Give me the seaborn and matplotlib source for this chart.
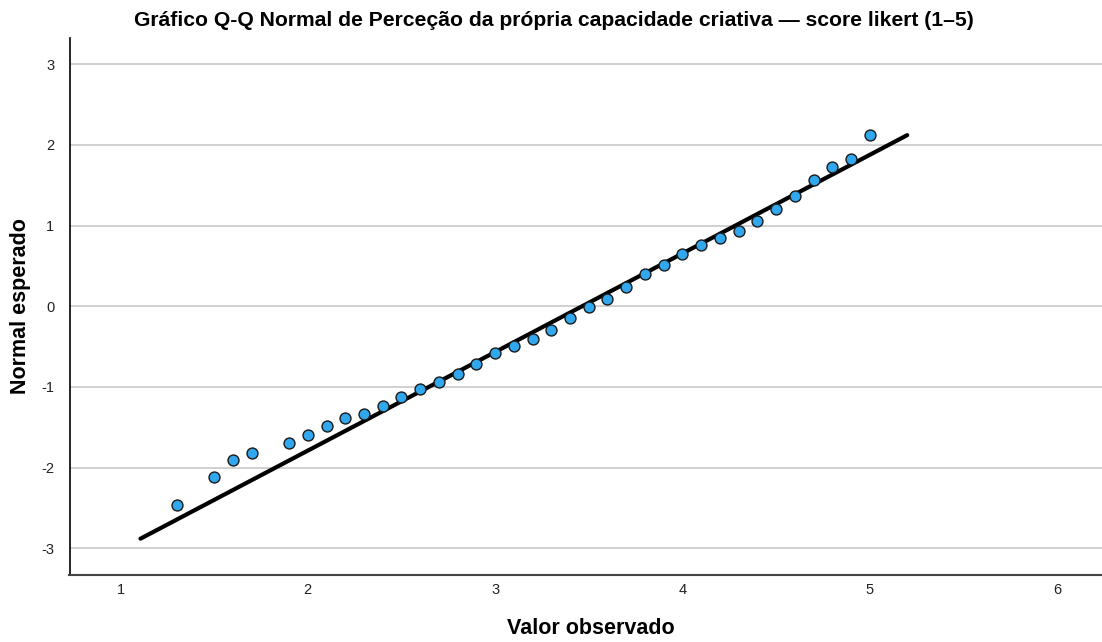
import matplotlib
matplotlib.use("Agg")
import matplotlib.pyplot as plt
import seaborn as sns
import pandas as pd

observed = [1.3, 1.5, 1.6, 1.7, 1.9, 2.0, 2.1, 2.2, 2.3, 2.4, 2.5, 2.6, 2.7, 2.8,
            2.9, 3.0, 3.1, 3.2, 3.3, 3.4, 3.5, 3.6, 3.7, 3.8, 3.9, 4.0, 4.1, 4.2,
            4.3, 4.4, 4.5, 4.6, 4.7, 4.8, 4.9, 5.0]
expected = [-2.46, -2.11, -1.91, -1.82, -1.70, -1.60, -1.48, -1.39, -1.34, -1.24,
            -1.12, -1.03, -0.94, -0.84, -0.72, -0.58, -0.49, -0.41, -0.30, -0.14,
            -0.01, 0.09, 0.24, 0.40, 0.51, 0.65, 0.76, 0.84, 0.93, 1.06, 1.20,
            1.36, 1.57, 1.73, 1.82, 2.12]
line_x = [1.107, 5.2]
line_y = [-2.88, 2.12]
x_ticks = [1, 2, 3, 4, 5, 6]
y_ticks = [-3, -2, -1, 0, 1, 2, 3]

title = "Gráfico Q-Q Normal de Perceção da própria capacidade criativa — score likert (1–5)"

sns.set_theme(style="white")
plt.rcParams['font.family'] = ['Liberation Sans', 'DejaVu Sans']
plt.rcParams['text.color'] = 'black'
plt.rcParams['axes.labelcolor'] = 'black'

W, H = 1102, 642
fig = plt.figure(figsize=(W / 100, H / 100), dpi=100)
ax_l, ax_r, ax_t, ax_b = 69.5, 1102, 37.5, 575
ax = fig.add_axes([ax_l / W, 1 - ax_b / H, (ax_r - ax_l) / W, (ax_b - ax_t) / H])

df = pd.DataFrame({"obs": observed, "exp": expected})
ax.set_xlim(0.728, 6.24)
ax.set_ylim(-3.33, 3.33)
for yt in y_ticks:
    ax.axhline(yt, color="#c8c8c8", lw=1.2, zorder=0)

sns.lineplot(x=line_x, y=line_y, ax=ax, color="black", lw=3, zorder=2)
sns.scatterplot(data=df, x="obs", y="exp", ax=ax, s=62, color="#31a8ee",
                edgecolor="#1a1a1a", linewidth=1, zorder=3)

ax.set_xticks(x_ticks)
ax.set_xticklabels([str(t) for t in x_ticks])
ax.set_yticks(y_ticks)
ax.set_yticklabels([str(t) for t in y_ticks])
ax.tick_params(axis="both", length=0, labelsize=10.5, colors="#222222")
ax.tick_params(axis="x", pad=6)
ax.tick_params(axis="y", pad=11)

for s in ["top", "right"]:
    ax.spines[s].set_visible(False)
ax.spines["left"].set_color("black")
ax.spines["left"].set_linewidth(1.2)
ax.spines["bottom"].set_color("#444444")
ax.spines["bottom"].set_linewidth(1.5)

ax.set_xlabel("Valor observado", fontsize=15.5, fontweight="bold", va="center")
ax.xaxis.set_label_coords((591 - ax_l) / (ax_r - ax_l), (ax_b - 629) / (ax_b - ax_t))
ax.set_ylabel("Normal esperado", fontsize=15.5, fontweight="bold", va="center")
ax.yaxis.set_label_coords((21 - ax_l) / (ax_r - ax_l), (ax_b - 306) / (ax_b - ax_t))
fig.text(554 / W, 1 - 20.5 / H, title, ha="center", va="center",
         fontsize=15.2, fontweight="bold")

fig.savefig("out.png", dpi=100)
